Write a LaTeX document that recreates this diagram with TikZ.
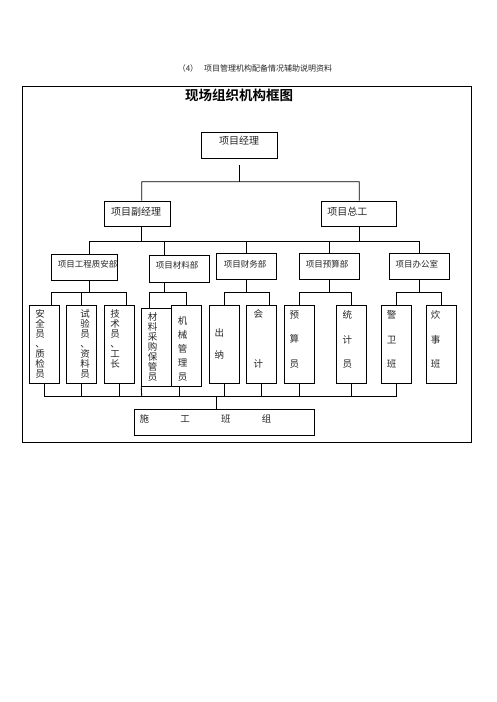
\documentclass[tikz,border=0pt]{standalone}
\usepackage{fontspec}
\newfontfamily\cjk{Noto Sans CJK SC}[BoldFont={Noto Sans CJK SC Bold}]
\begin{document}
\begin{tikzpicture}[x=1pt,y=-1pt,line width=0.85pt,
  box/.style={draw,rectangle,inner sep=0pt},
  t10/.style={inner sep=0pt,text=black!85,font=\cjk\fontsize{10}{10}\selectfont},
  t85/.style={inner sep=0pt,text=black!85,font=\cjk\fontsize{8.5}{8.5}\selectfont},
  vt/.style={inner sep=0pt,anchor=north,align=center,text=black!85,font=\cjk\fontsize{9.5}{#1}\selectfont}]
\useasboundingbox (0,0) rectangle (496,702);
\newcommand\bx[5]{\node[box,minimum width={(#4-#2)*1pt},minimum height={(#5-#3)*1pt}] (#1) at ({(#2+#4)/2},{(#3+#5)/2}) {};}
% header and frame
\node[inner sep=0pt,font=\cjk\fontsize{8}{8}\selectfont,text=black!85] (hdr) at (255,68) {（4）\hspace{6pt}项目管理机构配备情况辅助说明资料};
\node[draw,line width=1pt,inner sep=0pt,minimum width=449pt,minimum height=356pt] (frame) at (246.5,264) {};
\node[inner sep=0pt,font=\cjk\bfseries\fontsize{13.5}{14}\selectfont] (ttl) at (239,95.5) {现场组织机构框图};
% boxes
\bx{pm}{201}{132}{277}{158}
\bx{dpm}{104.3}{201}{170}{226.7}
\bx{cte}{321.7}{201}{396.7}{226.7}
\bx{d1}{51.7}{254.3}{117.3}{280}
\bx{d2}{149.3}{255.7}{209.3}{282.7}
\bx{d3}{216}{253.3}{276}{279.3}
\bx{d4}{299.3}{253.3}{359.3}{279.3}
\bx{d5}{389.3}{253.3}{449.3}{279.3}
\bx{e1}{29.3}{305.3}{59.3}{383.3}
\bx{e2}{66.7}{305.3}{96.7}{383.3}
\bx{e3}{104.3}{305.3}{134.3}{383.3}
\bx{e4}{141.7}{308.3}{171.7}{386}
\bx{e5}{171.7}{305.3}{201.7}{386}
\bx{e6}{209.3}{305.3}{239.3}{383.3}
\bx{e7}{246.7}{305.3}{276.7}{383.3}
\bx{e8}{284.3}{305.3}{314.3}{383.3}
\bx{e9}{336.7}{305.3}{366.7}{383.3}
\bx{e10}{381.7}{305.3}{411.7}{383.3}
\bx{e11}{426}{305.3}{456.7}{383.3}
\bx{sg}{134.3}{409.3}{314.3}{435}
% texts
\node[t10] (tpm) at (239,141) {项目经理};
\node[t10,anchor=west] (tdpm) at (110.7,211.7) {项目副经理};
\node[t10,anchor=west] (tcte) at (327,211.7) {项目总工};
\node[t85] (td1) at (87.7,264) {项目工程质安部};
\node[t85] (td2) at (177,265.7) {项目材料部};
\node[t85] (td3) at (245,264) {项目财务部};
\node[t85] (td4) at (327.2,264) {项目预算部};
\node[t85] (td5) at (416.9,264) {项目办公室};
\node[vt=10] (te1) at (40,309.5) {安\\全\\员\\、\\质\\检\\员};
\node[vt=9.9] (te2) at (85,309.3) {试\\验\\员\\、\\资\\料\\员};
\node[vt=10] (te3) at (115,309.3) {技\\术\\员\\、\\工\\长};
\node[vt=9.9] (te4) at (152.7,312.5) {材\\料\\采\\购\\保\\管\\员};
\node[vt=14] (te5) at (182.7,316.2) {机\\械\\管\\理\\员};
\node[vt=21.7] (te6) at (219.3,328.5) {出\\纳};
\node[vt=50] (te7) at (258.3,309.2) {会\\计};
\node[vt=24.5] (te8) at (294.3,310.2) {预\\算\\员};
\node[vt=24.5] (te9) at (347.3,310.2) {统\\计\\员};
\node[vt=24.5] (te10) at (391.7,310.2) {警\\卫\\班};
\node[vt=24.5] (te11) at (435.7,310.2) {炊\\事\\班};
\node[inner sep=0pt,anchor=west,text=black!85,font=\cjk\fontsize{9.5}{10}\selectfont] (tsg) at (139.3,419.3) {施\hspace{31.2pt}工\hspace{31.2pt}班\hspace{31.2pt}组};
% bus coordinates
\coordinate (b1L) at (141.7,181.7);
\coordinate (b1R) at (359.3,181.7);
\coordinate (b2L) at (89.5,241);
\coordinate (b2R) at (419.3,241);
\coordinate (x2) at (164.3,0);
\coordinate (x3) at (246.7,0);
\coordinate (b3a) at (51.7,292.3);
\coordinate (b3c) at (126,292.3);
\coordinate (b3d) at (149.3,292.3);
\coordinate (b3e) at (186,292.3);
\coordinate (b3f) at (224.3,292.3);
\coordinate (b3g) at (269.3,292.3);
\coordinate (b3h) at (299.3,292.3);
\coordinate (b3i) at (351.7,292.3);
\coordinate (b3j) at (396.7,292.3);
\coordinate (b3k) at (441.7,292.3);
\coordinate (c1) at (44.3,396);
\coordinate (c2) at (81.7,396);
\coordinate (c3) at (119.7,396);
\coordinate (c4) at (141.7,396);
\coordinate (c5) at (179.7,396);
\coordinate (c6) at (224.3,396);
\coordinate (c7) at (261.7,396);
\coordinate (c8) at (299.3,396);
\coordinate (c9) at (351.7,396);
\coordinate (c10) at (396.7,396);
\coordinate (csg) at (216.3,396);
% connectors level 1-2
\draw ([yshift=-7pt]pm.south) -- (pm.south |- b1L);
\draw (dpm.north -| b1L) -- (b1L) -- (b1R) -- (cte.north);
% level 2-3
\draw (dpm.south -| b1L) -- (b1L |- b2L);
\draw (cte.south) -- (cte.south |- b2L);
\draw (d1.north -| b2L) -- (b2L) -- (b2R) -- (d5.north);
\draw (d2.north -| x2) -- (x2 |- b2L);
\draw (d3.north -| x3) -- (x3 |- b2L);
\draw (d4.north) -- (d4.north |- b2L);
% level 3-4
\draw (d1.south -| b2L) -- (b2L |- b3a);
\draw (e1.north -| b3a) -- (b3a) -- (b3c) -- (e3.north -| b3c);
\draw (e2.north) -- (e2.north |- b3a);
\draw (d2.south -| x2) -- (x2 |- b3d);
\draw (e4.north -| b3d) -- (b3d) -- (b3e) -- (e5.north -| b3e);
\draw (d3.south -| x3) -- (x3 |- b3f);
\draw (e6.north) -- (b3f) -- (b3g) -- (e7.north -| b3g);
\draw (d4.south) -- (d4.south |- b3h);
\draw (e8.north) -- (b3h) -- (b3i) -- (e9.north);
\draw (d5.south) -- (d5.south |- b3j);
\draw (e10.north) -- (b3j) -- (b3k) -- (e11.north -| b3k);
% level 4 - bottom
\draw (e1.south) -- (c1) -- (c10) -- (e10.south);
\draw (e2.south) -- (c2);
\draw (e3.south -| c3) -- (c3);
\draw (e4.south west) -- (c4);
\draw (e5.south -| c5) -- (c5);
\draw (e6.south) -- (c6);
\draw (e7.south) -- (c7);
\draw (e8.south) -- (c8);
\draw (e9.south) -- (c9);
\draw (csg) -- (sg.north -| csg);
\end{tikzpicture}
\end{document}
